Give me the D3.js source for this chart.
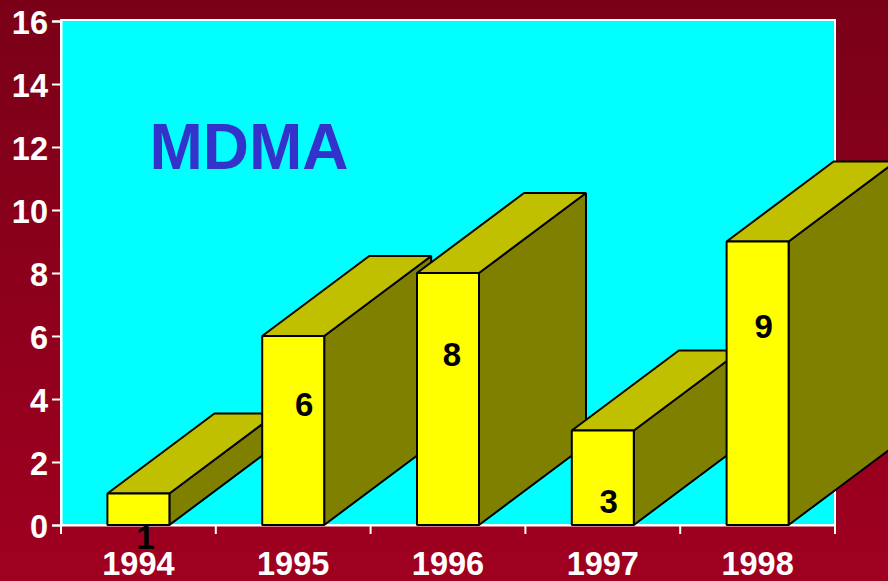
<!DOCTYPE html>
<html><head><meta charset="utf-8">
<script src="https://cdn.jsdelivr.net/npm/d3@7/dist/d3.min.js"></script>
<style>html,body{margin:0;padding:0;overflow:hidden}svg{display:block}text{font-family:"Liberation Sans",Arial,sans-serif;font-weight:700}</style>
</head><body><svg id="c" width="888" height="581"></svg>
<script>
const categories = ["1994","1995","1996","1997","1998"];
const values = [1,6,8,3,9];
const yTicks = [0,2,4,6,8,10,12,14,16];
const title = "MDMA";
// where each data label sits: value-axis height and px shift from bar centre
const labelHeights = [-0.38,3.84,5.4,0.76,6.31];
const labelShifts = [7,11,4,6,6];

const W=888,H=581,L=61,R=835,T=21,B=525,depthX=107,depthY=80;
const svg=d3.select("#c");
const grad=svg.append("defs").append("linearGradient").attr("id","bg").attr("x1",0).attr("y1",0).attr("x2",0).attr("y2",1);
grad.append("stop").attr("offset",0).attr("stop-color","#7a0018");
grad.append("stop").attr("offset",1).attr("stop-color","#a00020");
svg.append("rect").attr("width",W).attr("height",H).attr("fill","url(#bg)");

const x=d3.scaleBand().domain(categories).range([L,R]).paddingInner(0).paddingOuter(0);
const y=d3.scaleLinear().domain([0,16]).range([B,T]);
const barW=62;

svg.append("rect").attr("x",L).attr("y",T-1).attr("width",R-L).attr("height",B-T+1)
  .attr("fill","#00ffff").attr("stroke","#fff").attr("stroke-width",2);

const yAxis=d3.axisLeft(y).tickValues(yTicks).tickSize(9).tickPadding(4).tickFormat(d3.format("d"));
const xAxis=d3.axisBottom(x).tickSize(0).tickPadding(27);
const gy=svg.append("g").attr("transform",`translate(${L},0)`).call(yAxis);
const gx=svg.append("g").attr("transform",`translate(0,${B})`).call(xAxis);
[gy,gx].forEach(g=>{
  g.selectAll(".domain").attr("stroke","#fff").attr("stroke-width",2);
  g.selectAll(".tick line").attr("stroke","#fff").attr("stroke-width",2);
  g.selectAll("text").attr("fill","#fff").attr("font-size",32.5);
});
gy.selectAll("text").attr("dy","0.37em");
gx.selectAll("text").attr("dy","0.71em");
gx.selectAll(".edge").data(d3.range(categories.length+1)).enter().append("line")
  .attr("x1",i=>L+i*x.step()).attr("x2",i=>L+i*x.step()).attr("y1",0).attr("y2",9)
  .attr("stroke","#fff").attr("stroke-width",2);

svg.append("text").text(title).attr("x",149.5).attr("y",169).attr("font-size",64).attr("fill","#3333cc");

const data=categories.map((c,i)=>({c,v:values[i],i}));
const bars=svg.append("g").selectAll("g").data(data).enter().append("g")
  .attr("stroke","#000").attr("stroke-width",2).attr("stroke-linejoin","bevel");
const left=d=>x(d.c)+x.bandwidth()/2-barW/2;
bars.append("path").attr("fill","#808000").attr("d",d=>{
  const r=left(d)+barW,t=y(d.v);
  return `M${r},${t}L${r+depthX},${t-depthY}L${r+depthX},${B-depthY}L${r},${B}Z`;});
bars.append("path").attr("fill","#c0c000").attr("d",d=>{
  const l=left(d),t=y(d.v);
  return `M${l},${t}L${l+depthX},${t-depthY}L${l+barW+depthX},${t-depthY}L${l+barW},${t}Z`;});
bars.append("rect").attr("fill","#ffff00").attr("x",left).attr("y",d=>y(d.v)).attr("width",barW).attr("height",d=>B-y(d.v));

svg.append("g").selectAll("text").data(data).enter().append("text")
  .text(d=>d.v).attr("text-anchor","middle").attr("dy","0.35em").attr("font-size",33).attr("fill","#000")
  .attr("x",d=>x(d.c)+x.bandwidth()/2+labelShifts[d.i]).attr("y",d=>y(labelHeights[d.i]));
</script></body></html>
